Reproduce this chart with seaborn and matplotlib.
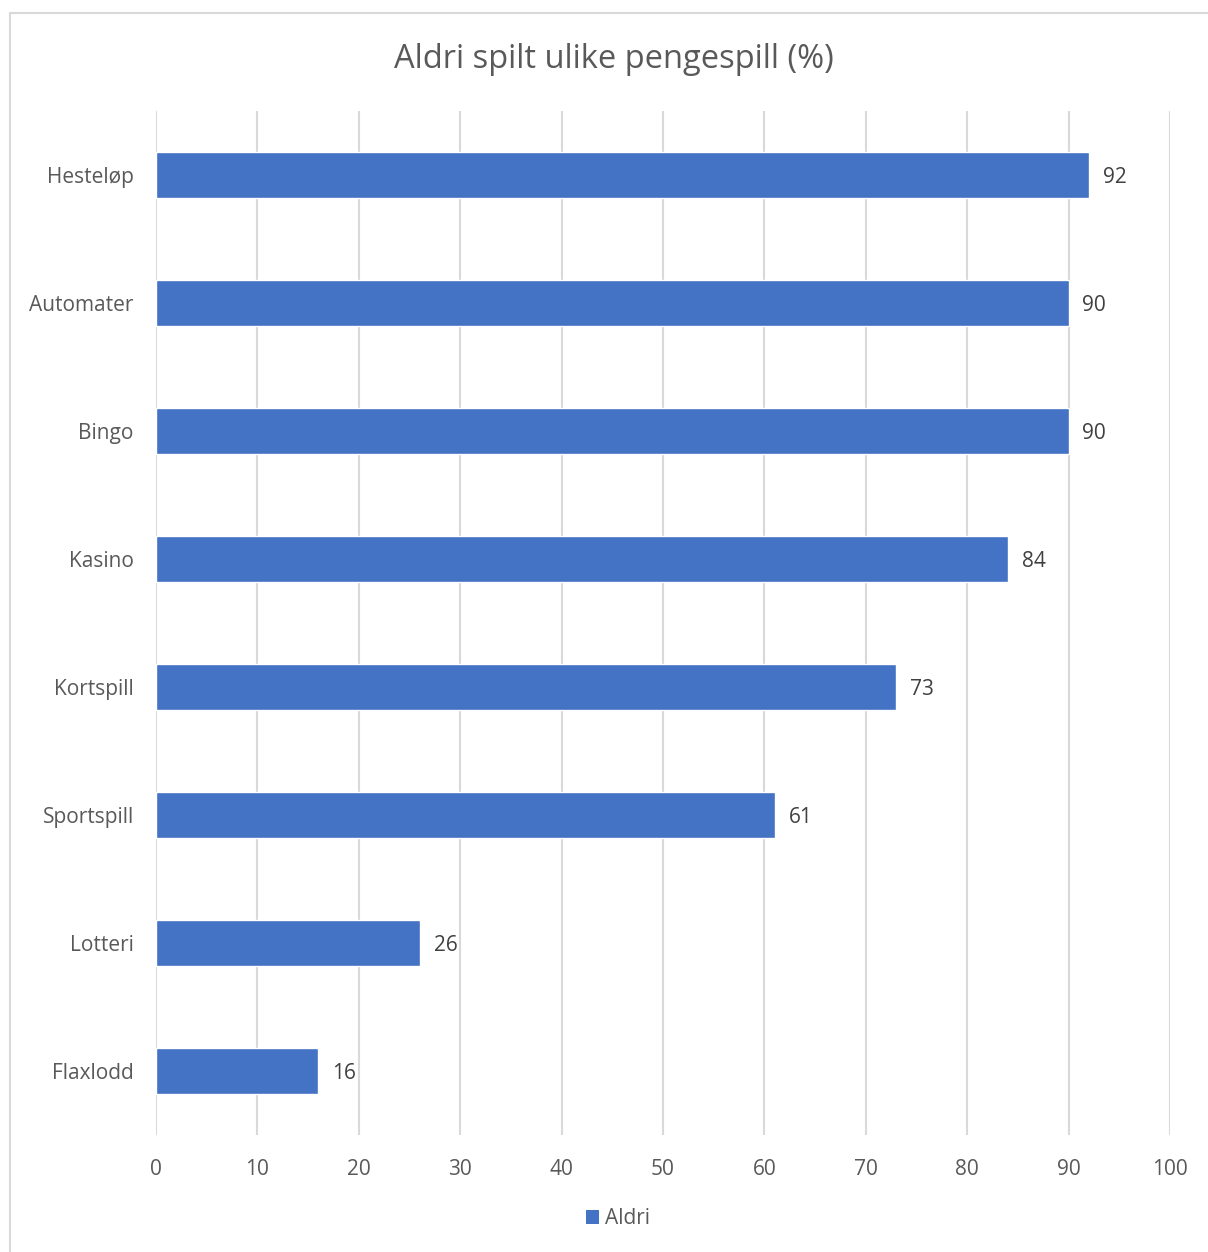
import matplotlib
matplotlib.use("Agg")
import matplotlib.pyplot as plt
import seaborn as sns
import pandas as pd
from matplotlib.patches import Rectangle, Patch

categories = ["Hesteløp", "Automater", "Bingo", "Kasino", "Kortspill", "Sportspill", "Lotteri", "Flaxlodd"]
values = [92, 90, 90, 84, 73, 61, 26, 16]
xticks = [0, 10, 20, 30, 40, 50, 60, 70, 80, 90, 100]
series_name = "Aldri"
title = "Aldri spilt ulike pengespill (%)"

sns.set_theme(style="white")
plt.rcParams['font.family'] = ['Open Sans', 'DejaVu Sans']

W, H = 1208, 1252
fig = plt.figure(figsize=(W / 100, H / 100), dpi=100)
ax = fig.add_axes([156 / W, 1 - 1135 / H, (1170 - 156) / W, (1135 - 111) / H])

df = pd.DataFrame({"kategori": categories, "verdi": values})
bar_color = "#4472C4"
sns.barplot(data=df, y="kategori", x="verdi", orient="h", color=bar_color,
            width=0.36, ax=ax, saturation=1)

ax.set_xlim(0, 100)
ax.set_ylim(7.5, -0.5)
ax.set_xticks(xticks)
ax.set_xticklabels([str(t) for t in xticks])
ax.xaxis.grid(True, color="#d9d9d9", linewidth=1.5)
ax.set_axisbelow(True)
for s in ax.spines.values():
    s.set_visible(False)
ax.tick_params(axis="both", length=0, labelsize=15, labelcolor="#595959")
ax.tick_params(axis="x", pad=17)
ax.tick_params(axis="y", pad=16)
ax.set_xlabel("")
ax.set_ylabel("")

for i, v in enumerate(values):
    ax.annotate(str(v), xy=(v, i), xytext=(10, -2), textcoords="offset points",
                va="center", ha="left", fontsize=15, color="#404040")

fig.text(614 / W, 1 - 60 / H, title, ha="center", va="center", fontsize=23.5, color="#595959")

handles = [Patch(facecolor=bar_color, edgecolor="none", label=series_name)]
fig.legend(handles=handles, loc="center", bbox_to_anchor=(618 / W, 1 - 1219 / H),
           frameon=False, fontsize=15, handlelength=0.65, handleheight=0.65,
           handletextpad=0.3, labelcolor="#595959")

fig.patches.append(Rectangle((10 / W, -0.1), 1.2, 1 - 13 / H + 0.1, transform=fig.transFigure,
                             fill=False, edgecolor="#d9d9d9", linewidth=1.5))

fig.savefig("out.png", dpi=100, facecolor="white")
